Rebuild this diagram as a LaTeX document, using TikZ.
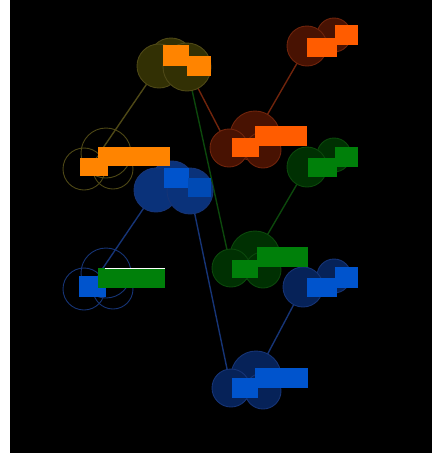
\documentclass[tikz,border=0pt]{standalone}
\pgfdeclarelayer{bg}
\pgfdeclarelayer{wires}
\pgfsetlayers{bg,wires,main}
\definecolor{orA}{RGB}{255,132,0}
\definecolor{orD}{RGB}{255,92,0}
\definecolor{grR}{RGB}{0,128,10}
\definecolor{blR}{RGB}{0,84,205}
\definecolor{olF}{RGB}{50,48,4}
\definecolor{olE}{RGB}{78,72,22}
\definecolor{rdF}{RGB}{72,18,2}
\definecolor{rdE}{RGB}{112,36,12}
\definecolor{gnF}{RGB}{0,48,2}
\definecolor{gnE}{RGB}{12,72,12}
\definecolor{buF}{RGB}{10,50,122}
\definecolor{buF2}{RGB}{6,34,88}
\definecolor{buE}{RGB}{22,52,118}
\tikzset{
  blob/.style={circle, inner sep=0pt, minimum size=#1, line width=0.9pt},
  olblob/.style={blob=#1, fill=olF, draw=olE},
  olring/.style={blob=#1, draw=olE},
  rdblob/.style={blob=#1, fill=rdF, draw=rdE},
  gnblob/.style={blob=#1, fill=gnF, draw=gnE},
  bublob/.style={blob=#1, fill=buF, draw=buE},
  bdblob/.style={blob=#1, fill=buF2, draw=buE},
  buring/.style={blob=#1, draw=buE},
  wire/.style={line width=1.4pt},
}
\begin{document}
\begin{tikzpicture}[x=1pt,y=-1pt]
\useasboundingbox (0,0) rectangle (432,453);
\begin{pgfonlayer}{bg}
\fill[white] (0,0) rectangle (10,453);
\fill[black] (10,0) rectangle (432,453);
\end{pgfonlayer}
% ---- circles ----
% A
\node[olblob=44pt] (A3) at (171,60) {};
\node[olblob=44pt] (A1) at (159,66) {};
\node[olblob=48pt] (A2) at (187,67) {};
% C
\node[rdblob=34pt] (C2) at (334,35) {};
\node[rdblob=40pt] (C1) at (307,46) {};
% B
\node[olring=42pt] (B1) at (84,169) {};
\node[olring=50pt] (B2) at (106,153) {};
\node[olring=40pt] (B3) at (113,169) {};
% D
\node[rdblob=50pt] (D2) at (255,136) {};
\node[rdblob=36pt] (D3) at (263,150) {};
\node[rdblob=38pt] (D1) at (229,148) {};
% E
\node[gnblob=34pt] (E2) at (334,155) {};
\node[gnblob=40pt] (E1) at (307,167) {};
% F
\node[bublob=44pt] (F3) at (172,183) {};
\node[bublob=44pt] (F1) at (156,190) {};
\node[bublob=46pt] (F2) at (190,191) {};
% G
\node[buring=42pt] (G1) at (84,289) {};
\node[buring=50pt] (G2) at (106,273) {};
\node[buring=40pt] (G3) at (113,289) {};
% H
\node[gnblob=50pt] (H2) at (255,256) {};
\node[gnblob=36pt] (H3) at (263,270) {};
\node[gnblob=38pt] (H1) at (231,268) {};
% I
\node[bdblob=34pt] (I2) at (334,276) {};
\node[bdblob=40pt] (I1) at (303,287) {};
% J
\node[bdblob=50pt] (J2) at (256,376) {};
\node[bdblob=36pt] (J3) at (263,391) {};
\node[bdblob=38pt] (J1) at (231,388) {};
% ---- bars ----
% A
\fill[orA] (163,45) rectangle (189,66);
\fill[orA] (187,56) rectangle (211,76);
% C
\fill[orD] (307,38) rectangle (337,57);
\fill[orD] (335,25) rectangle (358,45);
% B
\fill[orA] (80,158) rectangle (108,176);
\fill[orA] (98,147) rectangle (170,166);
% D
\fill[orD] (232,138) rectangle (259,157);
\fill[orD] (255,126) rectangle (307,146);
% E
\fill[grR] (308,158) rectangle (337,177);
\fill[grR] (335,147) rectangle (358,167);
% F
\fill[blR] (164,168) rectangle (189,188);
\fill[blR!88!black] (188,178) rectangle (211,197);
% G
\fill[blR] (79,276) rectangle (106,297);
\fill[grR] (98,268) rectangle (165,288);
\draw[white, line width=1.6pt] (105,268.5) -- (165,268.5);
% H
\fill[grR] (232,260) rectangle (258,278);
\fill[grR] (257,247) rectangle (308,267);
% I
\fill[blR] (307,278) rectangle (337,297);
\fill[blR] (335,267) rectangle (358,288);
% J
\fill[blR] (232,378) rectangle (258,398);
\fill[blR] (255,368) rectangle (308,388);
% ---- connectors ----
\begin{pgfonlayer}{wires}
\draw[wire, olE] (A1.center) -- (B3.north west);
\draw[wire, rdE] (A2.center) -- (D1.center);
\draw[wire, gnE] (A2.center) -- (H1.center);
\draw[wire, rdE] (C1.center) -- (D2.center);
\draw[wire, gnE] (E1.center) -- (H2.center);
\draw[wire, buE] (F1.center) -- (G3.north west);
\draw[wire, buE] (F2.center) -- (J1.center);
\draw[wire, buE] (I1.center) -- (J2.center);
\end{pgfonlayer}
\end{tikzpicture}
\end{document}
